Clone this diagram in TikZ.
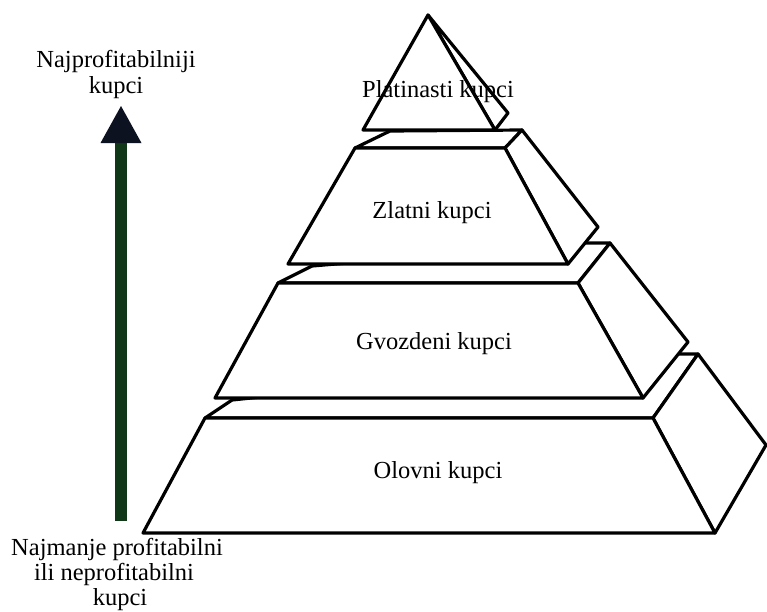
\documentclass[tikz,border=0pt]{standalone}
\usepackage{fontspec}
\setmainfont{Liberation Serif}
\usetikzlibrary{arrows.meta}
\definecolor{shaftgreen}{RGB}{16,56,24}
\definecolor{headnavy}{RGB}{12,18,32}
\begin{document}
\begin{tikzpicture}[x=1pt,y=-1pt,
  face/.style={draw=black, fill=white, line width=3.2pt, line join=round},
  tierlabel/.style={font=\fontsize{24.5}{29}\selectfont, anchor=base, inner sep=0pt},
  sidelabel/.style={font=\fontsize{24.5}{29}\selectfont, anchor=base, inner sep=0pt}]
\useasboundingbox (0,0) rectangle (767,611);
\fill[white] (0,0) rectangle (767,611);

% bottom tier: top face, side face, front face
\filldraw[face] (205,418) -- (232,400) -- (670,354) -- (698,354) -- (653,418) -- cycle;
\filldraw[face] (653,418) -- (698,354) -- (766,445) -- (715,533) -- cycle;
\filldraw[face] (143,533) -- (205,418) -- (653,418) -- (715,533) -- cycle;

% third tier
\filldraw[face] (278,283) -- (312,266) -- (585,243) -- (610,243) -- (578,283) -- cycle;
\filldraw[face] (578,283) -- (610,243) -- (688,342) -- (643,398) -- cycle;
\filldraw[face] (215,398) -- (278,283) -- (578,283) -- (643,398) -- cycle;

% second tier
\filldraw[face] (355,148) -- (390,131) -- (522,130) -- (505,148) -- cycle;
\filldraw[face] (505,148) -- (522,130) -- (598,227) -- (568,264) -- cycle;
\filldraw[face] (288,264) -- (355,148) -- (505,148) -- (568,264) -- cycle;

% top pyramid
\filldraw[face] (428,15) -- (508,113) -- (495,130) -- cycle;
\filldraw[face] (428,15) -- (363,130) -- (495,130) -- cycle;

% tier labels
\node[tierlabel] (lblPlat) at (438,97) {Platinasti kupci};
\node[tierlabel] (lblZlat) at (432,218) {Zlatni kupci};
\node[tierlabel] (lblGvoz) at (434,349) {Gvozdeni kupci};
\node[tierlabel] (lblOlov) at (438,478) {Olovni kupci};

% profitability arrow
\coordinate (arrowFoot) at (121,521);
\coordinate (arrowTip) at (121,106);
\draw[line width=12pt, shaftgreen,
  -{Triangle[width=41pt,length=37pt,line width=0pt,color=headnavy,fill=headnavy]}]
  (arrowFoot) -- (arrowTip);

% axis captions
\node[sidelabel] (lblTop1) at (116,67) {Najprofitabilniji};
\node[sidelabel] (lblTop2) at (116,93) {kupci};
\node[sidelabel] (lblBot1) at (117,555) {Najmanje profitabilni};
\node[sidelabel] (lblBot2) at (114,580) {ili neprofitabilni};
\node[sidelabel] (lblBot3) at (120,605) {kupci};
\end{tikzpicture}
\end{document}
